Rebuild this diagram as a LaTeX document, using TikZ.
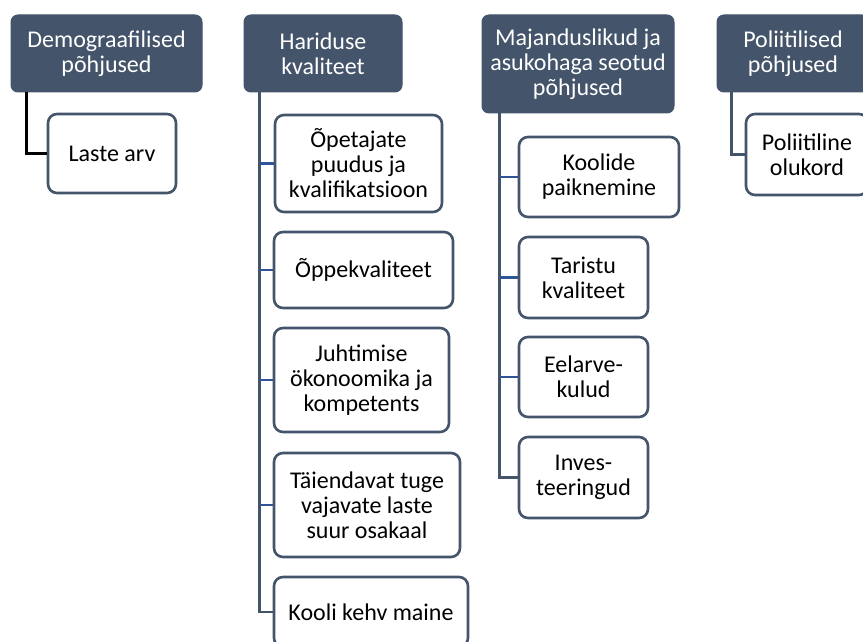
\documentclass[tikz,border=0pt]{standalone}
\usepackage{fontspec}
\setmainfont{Carlito}
\definecolor{slate}{HTML}{44546A}
\definecolor{stubblue}{HTML}{2F5597}
\tikzset{
  hdr/.style={draw=slate, fill=slate, text=white, rounded corners=7pt, align=center, inner sep=0pt, line width=1pt,
    font=\fontsize{24}{25}\selectfont},
  child/.style={draw=slate, fill=white, text=black, rounded corners=9pt, align=center, inner sep=0pt, line width=2.6pt,
    font=\fontsize{24}{25}\selectfont},
  vline/.style={draw=slate, line width=2.6pt},
  stub/.style={draw=stubblue, line width=2.6pt},
  blk/.style={draw=black, line width=2.6pt}
}
\begin{document}
\begin{tikzpicture}[x=1pt,y=-1pt]
\useasboundingbox (0,0) rectangle (863,642);
\clip (0,0) rectangle (863,642);
% headers
\node[hdr, minimum width=191pt, minimum height=77pt] (h1) at (106.5,53.5) {Demograafilised\\põhjused};
\node[hdr, minimum width=158pt, minimum height=77pt] (h2) at (323,53.5) {Hariduse\\kvaliteet};
\node[hdr, minimum width=192pt, minimum height=98pt] (h3) at (578,64) {Majanduslikud ja\\asukohaga seotud\\põhjused};
\node[hdr, minimum width=152pt, minimum height=77pt] (h4) at (793,53.5) {Poliitilised\\põhjused};
% children
\node[child, minimum width=128pt, minimum height=79pt] (c1) at (112,153.5) {Laste arv};
\node[child, minimum width=167pt, minimum height=97pt] (c2a) at (358.5,163.5) {Õpetajate\\puudus ja\\kvalifikatsioon};
\node[child, minimum width=179pt, minimum height=76pt] (c2b) at (363.5,270) {Õppekvaliteet};
\node[child, minimum width=175pt, minimum height=104pt] (c2c) at (361.5,380) {Juhtimise\\ökonoomika ja\\kompetents};
\node[child, minimum width=186pt, minimum height=104pt] (c2d) at (367,505) {Täiendavat tuge\\vajavate laste\\suur osakaal};
\node[child, minimum width=194pt, minimum height=70pt] (c2e) at (371,612) {Kooli kehv maine};
\node[child, minimum width=160pt, minimum height=80pt] (c3a) at (599,177) {Koolide\\paiknemine};
\node[child, minimum width=129pt, minimum height=81pt] (c3b) at (583.5,277.5) {Taristu\\kvaliteet};
\node[child, minimum width=129pt, minimum height=80pt] (c3c) at (583.5,377) {Eelarve-\\kulud};
\node[child, minimum width=129pt, minimum height=81pt] (c3d) at (583.5,477.5) {Inves-\\teeringud};
\node[child, minimum width=122pt, minimum height=81pt] (c4) at (807,154.5) {Poliitiline\\olukord};
% branch points
\coordinate (v1) at ([xshift=16pt]h1.south west);
\coordinate (v2) at ([xshift=16pt]h2.south west);
\coordinate (v3) at ([xshift=18pt]h3.south west);
\coordinate (v4) at ([xshift=15pt]h4.south west);
% column 1
\draw[blk] (v1) |- (c1.west);
% column 2
\draw[vline] (v2) |- (c2e.west);
\foreach \c in {c2a,c2b,c2c,c2d} \draw[stub] (v2 |- \c.west) -- (\c.west);
% column 3
\draw[vline] (v3) |- (c3d.west);
\foreach \c in {c3a,c3b,c3c} \draw[stub] (v3 |- \c.west) -- (\c.west);
% column 4
\draw[vline] (v4) |- (c4.west);
\end{tikzpicture}
\end{document}
